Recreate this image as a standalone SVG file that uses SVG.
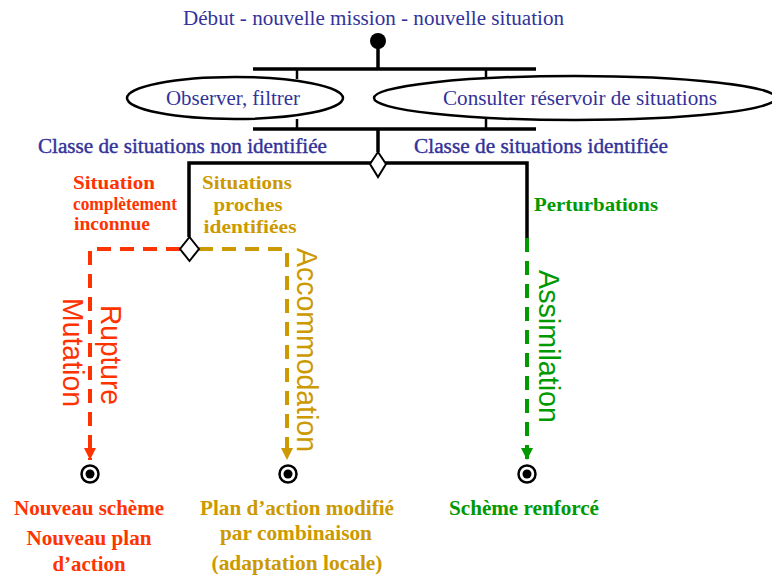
<svg xmlns="http://www.w3.org/2000/svg" width="772" height="576" viewBox="0 0 772 576">
<style>
.blue{fill:#333399;font-family:"Liberation Serif","Times New Roman",serif;font-size:20px}
.lbl{font-family:"Liberation Serif","Times New Roman",serif;font-size:19px;font-weight:bold;text-anchor:middle}
.big{font-size:21px}
.rot{font-family:"Liberation Sans",Arial,sans-serif;font-size:29px}
.red{fill:#FF3300}.gold{fill:#CC9900}.green{fill:#009900}
.bar{stroke:#000;stroke-width:3.5;fill:none}
.tick{stroke:#000;stroke-width:2.5;fill:none}
.ell{fill:#fff;stroke:#000;stroke-width:2.5}
.dia{fill:#fff;stroke:#000;stroke-width:2}
.dr{stroke:#FF3300;stroke-width:4;fill:none;stroke-dasharray:14 9}
.dg{stroke:#CC9900;stroke-width:4;fill:none;stroke-dasharray:14 9}
.dgr{stroke:#009900;stroke-width:4;fill:none;stroke-dasharray:14 9}
</style>
<defs>
<marker id="ar" viewBox="0 0 10 10" refX="10" refY="5" markerWidth="3" markerHeight="3" orient="auto" markerUnits="strokeWidth"><path d="M0,0 L10,5 L0,10 z" fill="#FF3300"/></marker>
<marker id="ag" viewBox="0 0 10 10" refX="10" refY="5" markerWidth="3" markerHeight="3" orient="auto" markerUnits="strokeWidth"><path d="M0,0 L10,5 L0,10 z" fill="#CC9900"/></marker>
<marker id="agr" viewBox="0 0 10 10" refX="10" refY="5" markerWidth="3" markerHeight="3" orient="auto" markerUnits="strokeWidth"><path d="M0,0 L10,5 L0,10 z" fill="#009900"/></marker>
</defs>
<rect width="772" height="576" fill="#fff"/>

<g id="connectors">
<line class="bar" x1="378" y1="41" x2="378" y2="69"/>
<line class="bar" x1="253" y1="69" x2="536" y2="69"/>
<line class="tick" x1="297" y1="69" x2="297" y2="79"/>
<line class="tick" x1="486" y1="69" x2="486" y2="79"/>
<line class="tick" x1="297" y1="119" x2="297" y2="129"/>
<line class="tick" x1="486" y1="119" x2="486" y2="129"/>
<line class="bar" x1="253" y1="129" x2="536" y2="129"/>
<line class="bar" x1="378" y1="129" x2="378" y2="152"/>
<path class="bar" d="M189,237 V163 H527 V240"/>
<path class="dr" d="M180,249 H90 V460" marker-end="url(#ar)"/>
<path class="dg" d="M199,249 H287 V460" marker-end="url(#ag)"/>
<path class="dgr" d="M527,238 V460" marker-end="url(#agr)"/>
</g>

<g id="start"><circle cx="378" cy="41" r="8" fill="#000"/></g>
<g id="title"><text class="blue" x="183" y="25" textLength="381" lengthAdjust="spacingAndGlyphs">Début - nouvelle mission - nouvelle situation</text></g>

<g id="observer">
<ellipse class="ell" cx="235" cy="98" rx="108" ry="21"/>
<text class="blue" x="166" y="105" textLength="134" lengthAdjust="spacingAndGlyphs">Observer, filtrer</text>
</g>
<g id="consulter">
<ellipse class="ell" cx="575" cy="98" rx="201" ry="22"/>
<text class="blue" x="443" y="105" textLength="274" lengthAdjust="spacingAndGlyphs">Consulter réservoir de situations</text>
</g>

<g id="decision1">
<path class="dia" d="M378,152 L386,164 L378,177 L370,164 Z"/>
<text class="blue" x="38" y="153" textLength="289" lengthAdjust="spacingAndGlyphs" stroke="#333399" stroke-width="0.4">Classe de situations non identifiée</text>
<text class="blue" x="414" y="153" textLength="254" lengthAdjust="spacingAndGlyphs" stroke="#333399" stroke-width="0.4">Classe de situations identifiée</text>
</g>

<g id="decision2">
<path class="dia" d="M189.5,237 L199,249 L189.5,261 L180,249 Z"/>
</g>

<g id="labels-mid">
<text class="lbl red" x="114" y="189" textLength="82" lengthAdjust="spacingAndGlyphs">Situation</text>
<text class="lbl red" x="125" y="210" textLength="104" lengthAdjust="spacingAndGlyphs">complètement</text>
<text class="lbl red" x="112" y="230" textLength="76" lengthAdjust="spacingAndGlyphs">inconnue</text>
<text class="lbl gold" x="247" y="189" textLength="90" lengthAdjust="spacingAndGlyphs">Situations</text>
<text class="lbl gold" x="248" y="211" textLength="69" lengthAdjust="spacingAndGlyphs">proches</text>
<text class="lbl gold" x="250" y="233" textLength="93" lengthAdjust="spacingAndGlyphs">identifiées</text>
<text class="lbl green" x="596" y="211" textLength="124" lengthAdjust="spacingAndGlyphs">Perturbations</text>
</g>

<g id="rotated">
<text class="rot red" transform="translate(101,305) rotate(90)" textLength="100" lengthAdjust="spacingAndGlyphs">Rupture</text>
<text class="rot red" transform="translate(63,298) rotate(90)" textLength="109" lengthAdjust="spacingAndGlyphs">Mutation</text>
<text class="rot gold" transform="translate(297,248) rotate(90)" textLength="204" lengthAdjust="spacingAndGlyphs">Accommodation</text>
<text class="rot green" transform="translate(539,270) rotate(90)" textLength="153" lengthAdjust="spacingAndGlyphs">Assimilation</text>
</g>

<g id="end1">
<circle cx="90" cy="474" r="8.5" fill="#fff" stroke="#000" stroke-width="2.5"/>
<circle cx="90" cy="474" r="4.5" fill="#000"/>
<text class="lbl big red" x="89" y="515" textLength="150" lengthAdjust="spacingAndGlyphs">Nouveau schème</text>
<text class="lbl big red" x="89" y="545" textLength="125" lengthAdjust="spacingAndGlyphs">Nouveau plan</text>
<text class="lbl big red" x="89" y="571" textLength="73" lengthAdjust="spacingAndGlyphs">d’action</text>
</g>
<g id="end2">
<circle cx="288" cy="474" r="8.5" fill="#fff" stroke="#000" stroke-width="2.5"/>
<circle cx="288" cy="474" r="4.5" fill="#000"/>
<text class="lbl big gold" x="297" y="515" textLength="194" lengthAdjust="spacingAndGlyphs">Plan d’action modifié</text>
<text class="lbl big gold" x="296" y="540" textLength="152" lengthAdjust="spacingAndGlyphs">par combinaison</text>
<text class="lbl big gold" x="297" y="570" textLength="171" lengthAdjust="spacingAndGlyphs">(adaptation locale)</text>
</g>
<g id="end3">
<circle cx="527" cy="474" r="8.5" fill="#fff" stroke="#000" stroke-width="2.5"/>
<circle cx="527" cy="474" r="4.5" fill="#000"/>
<text class="lbl big green" x="524" y="515" textLength="150" lengthAdjust="spacingAndGlyphs">Schème renforcé</text>
</g>
</svg>
